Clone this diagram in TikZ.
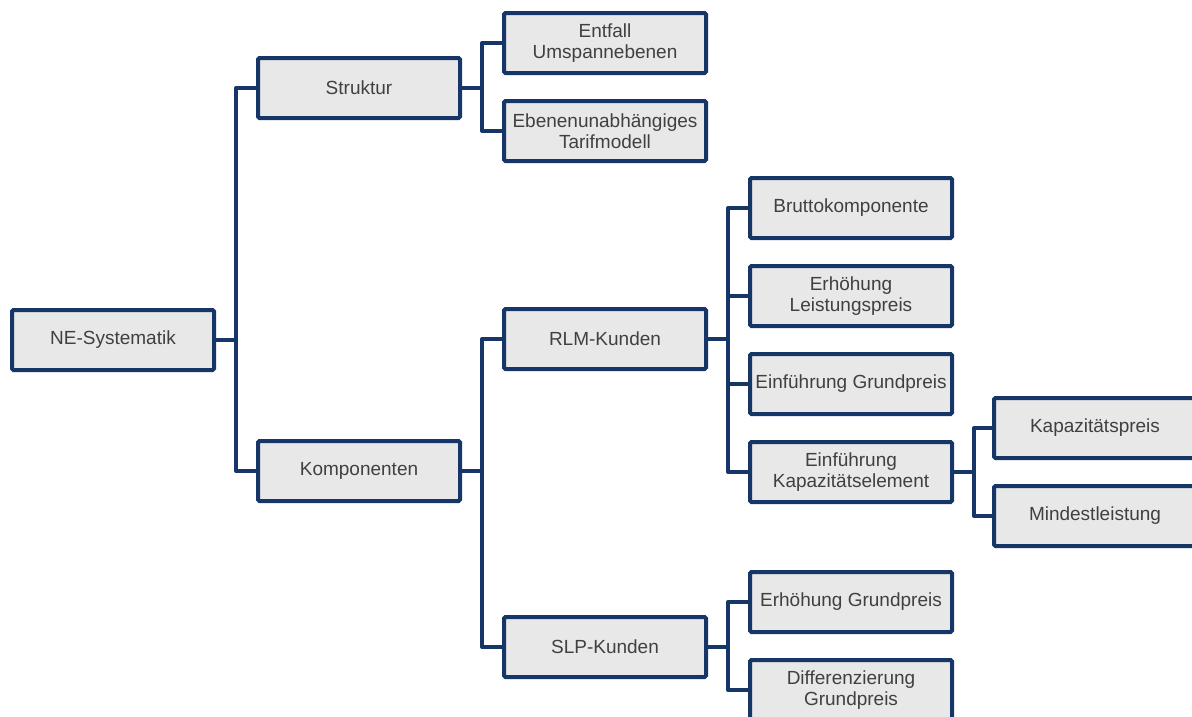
\documentclass[tikz,border=0pt]{standalone}
\usepackage{fontspec}
\setmainfont{Liberation Sans}
\definecolor{navy}{RGB}{22,54,104}
\definecolor{boxgray}{RGB}{232,232,232}
\definecolor{textgray}{RGB}{64,64,64}
\begin{document}
\begin{tikzpicture}[x=1pt,y=-1pt,
  box/.style={draw=navy,fill=boxgray,line width=4pt,rounded corners=1.5pt,
    minimum width=202pt,minimum height=60pt,inner sep=0pt,align=center,
    text=textgray,font=\fontsize{19}{21}\selectfont},
  elbow/.style={to path={-- ++(20,0) |- (\tikztotarget)}},
  link/.style={draw=navy,line width=4pt,line join=round}]
\clip (0,0) rectangle (1192,716);
\node[box] (ne)      at (113,340)  {NE-Systematik};
\node[box] (struk)   at (359,88)   {Struktur};
\node[box] (komp)    at (359,471)  {Komponenten};
\node[box] (entfall) at (605,43)   {Entfall\\Umspannebenen};
\node[box] (ebenen)  at (605,131)  {Ebenenunabhängiges\\Tarifmodell};
\node[box] (rlm)     at (605,339)  {RLM-Kunden};
\node[box] (slp)     at (605,647)  {SLP-Kunden};
\node[box] (brutto)  at (851,208)  {Bruttokomponente};
\node[box] (erhlp)   at (851,296)  {Erhöhung\\Leistungspreis};
\node[box] (einfgp)  at (851,384)  {Einführung Grundpreis};
\node[box] (einfkap) at (851,472)  {Einführung\\Kapazitätselement};
\node[box] (kappr)   at (1095,428) {Kapazitätspreis};
\node[box] (mindest) at (1095,516) {Mindestleistung};
\node[box] (erhgp)   at (851,602)  {Erhöhung Grundpreis};
\node[box] (diffgp)  at (851,690)  {Differenzierung\\Grundpreis};
\path[link] (ne.east)      edge[elbow] (struk.west)
                           edge[elbow] (komp.west)
            (struk.east)   edge[elbow] (entfall.west)
                           edge[elbow] (ebenen.west)
            (komp.east)    edge[elbow] (rlm.west)
                           edge[elbow] (slp.west)
            (rlm.east)     edge[elbow] (brutto.west)
                           edge[elbow] (erhlp.west)
                           edge[elbow] (einfgp.west)
                           edge[elbow] (einfkap.west)
            (einfkap.east) edge[elbow] (kappr.west)
                           edge[elbow] (mindest.west)
            (slp.east)     edge[elbow] (erhgp.west)
                           edge[elbow] (diffgp.west);
\end{tikzpicture}
\end{document}
